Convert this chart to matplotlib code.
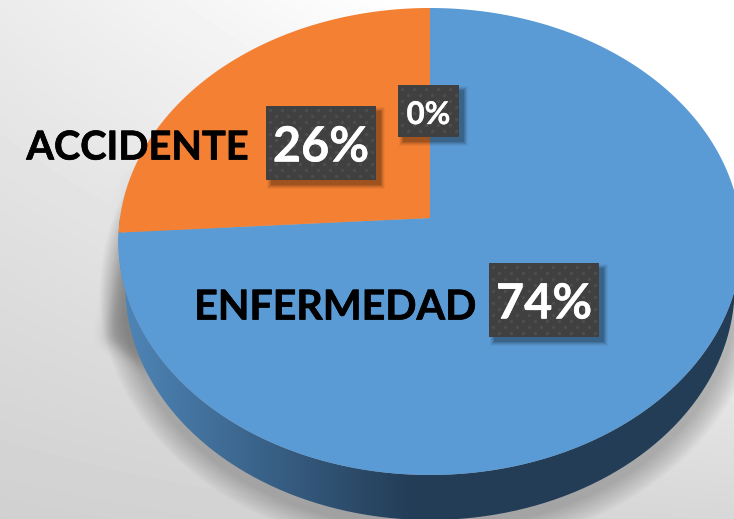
import numpy as np
import matplotlib
matplotlib.use("Agg")
import matplotlib.pyplot as plt
import matplotlib.patheffects as pe
from matplotlib.path import Path
from matplotlib.patches import Rectangle, PathPatch

names = ["ENFERMEDAD", "ACCIDENTE", ""]
values = [74, 26, 0]
colors = ["#5b9bd5", "#f38033", "#a5a5a5"]

W, H = 734, 519
plt.rcParams['font.family'] = ['Lato', 'DejaVu Sans']


# unit circle seen in perspective, gives the tilted pie top
def project(x, y, cx=430, cy=218, rx=310, a=-209.2, c=0.1006):
    return cx + rx * x / (1 + c * y), (cy + a * y) / (1 + c * y)


def rim(t0, t1, n=300):
    t = np.radians(np.linspace(t0, t1, n))
    return project(np.sin(t), np.cos(t))


def blur(img, r):
    k = np.ones(2 * r + 1) / (2 * r + 1)
    for i in range(2):
        img = np.apply_along_axis(lambda v: np.convolve(np.pad(v, r, mode='edge'), k, mode='valid'), 0, img)
        img = np.apply_along_axis(lambda v: np.convolve(np.pad(v, r, mode='edge'), k, mode='valid'), 1, img)
    return img


fig = plt.figure(figsize=(W / 100, H / 100), dpi=100)
ax = fig.add_axes([0, 0, 1, 1])
ax.set_xlim(0, W)
ax.set_ylim(H, 0)
ax.axis('off')

# background
yy, xx = np.mgrid[0:H, 0:W]
bg = 235 + (0.05 - 0.04 * yy / H) * xx - 27 * yy / H
bg = np.clip(bg, 0, 255) / 255
scale = 0.978
pts = np.column_stack([xx.ravel(), yy.ravel()])
wedge = Path([(128, 165), (104, 340), (230, 420), (230, 200)]).contains_points(pts).reshape(H, W).astype(float)
wedge = blur(wedge, 7) * np.clip((yy - 150) / 170, 0, 1)
bg = bg * (1 - wedge * 0.22)
ax.imshow(bg, cmap='gray', vmin=0, vmax=1, extent=[0, W, H, 0], aspect='auto', zorder=0)

# shadow under the pie, stacked soft ellipses
t = np.linspace(0, 2 * np.pi, 300)
for grow in np.linspace(8, 30, 12):
    ax.fill(430 + (300 + grow) * np.cos(t), 292 + (230 + grow) * np.sin(t), color='black',
            alpha=0.02, lw=0, zorder=1)

# side of the disc
tx, ty = rim(90, 270)
bt = np.radians(np.linspace(270, 90, 300))
bx, by = project(np.sin(bt), np.cos(bt))
bx = 430 + (bx - 430) * scale
by = by + 45
side = PathPatch(Path(np.column_stack([np.r_[tx, bx], np.r_[ty, by]])), fc='none', ec='none')
ax.add_patch(side)
f = np.clip((xx[0] - 120) / 290, 0, 1)[None, :]
c0 = np.array([0x4f, 0x86, 0xb8]) / 255
c1 = np.array([0x23, 0x3d, 0x57]) / 255
grad = (c0[None, None, :] * (1 - f[..., None]) + c1[None, None, :] * f[..., None])
grad = np.repeat(grad, H, axis=0)
im = ax.imshow(grad, extent=[0, W, H, 0], aspect='auto', zorder=2)
im.set_clip_path(side)

# slices, clockwise from the top
start = 0
for v, col in zip(values, colors):
    if v > 0:
        sweep = 360 * v / sum(values)
        sx, sy = rim(start, start + sweep)
        ax.fill(np.r_[430, sx], np.r_[218, sy], color=col, lw=0, zorder=3)
        start += sweep

bold = [pe.withStroke(linewidth=0.5, foreground='black')]
bold_w = [pe.withStroke(linewidth=0.3, foreground='white')]

# data labels
boxes = [(489, 263, 110, 74, 35), (266, 106, 110, 74, 35), (398, 85, 61, 52, 22.5)]
for v, (bx0, by0, bw, bh, fs) in zip(values, boxes):
    for grow, a in zip([8, 6, 4, 2, 0], [0.04, 0.06, 0.08, 0.1, 0.12]):
        ax.add_patch(Rectangle((bx0 + 5 - grow / 2, by0 + 5 - grow / 2), bw + grow, bh + grow,
                               fc='black', ec='none', alpha=a, zorder=4))
    ax.add_patch(Rectangle((bx0, by0), bw, bh, fc='#404040', ec='none', zorder=5))
    clip = Rectangle((bx0, by0), bw, bh, transform=ax.transData)
    dx, dy = np.meshgrid(np.arange(bx0 + 4, bx0 + bw, 12), np.arange(by0 + 4, by0 + bh, 12))
    ax.scatter(dx.ravel(), dy.ravel(), s=6, c='#4d4d4d', lw=0, zorder=6, clip_path=clip)
    ax.scatter(dx.ravel() + 6, dy.ravel() + 6, s=6, c='#4d4d4d', lw=0, zorder=6, clip_path=clip)
    ax.text(bx0 + bw / 2, by0 + bh / 2 + 4, f"{v}%", color='white', fontsize=fs, fontweight='bold',
            ha='center', va='center', zorder=7, path_effects=bold_w)

ax.text(476, 308, names[0], fontsize=29.6, fontweight='bold', color='black', ha='right', va='center',
        zorder=7, path_effects=bold)
ax.text(249, 148, names[1], fontsize=28.6, fontweight='bold', color='black', ha='right', va='center',
        zorder=7, path_effects=bold)

fig.savefig('out.png', dpi=100)
